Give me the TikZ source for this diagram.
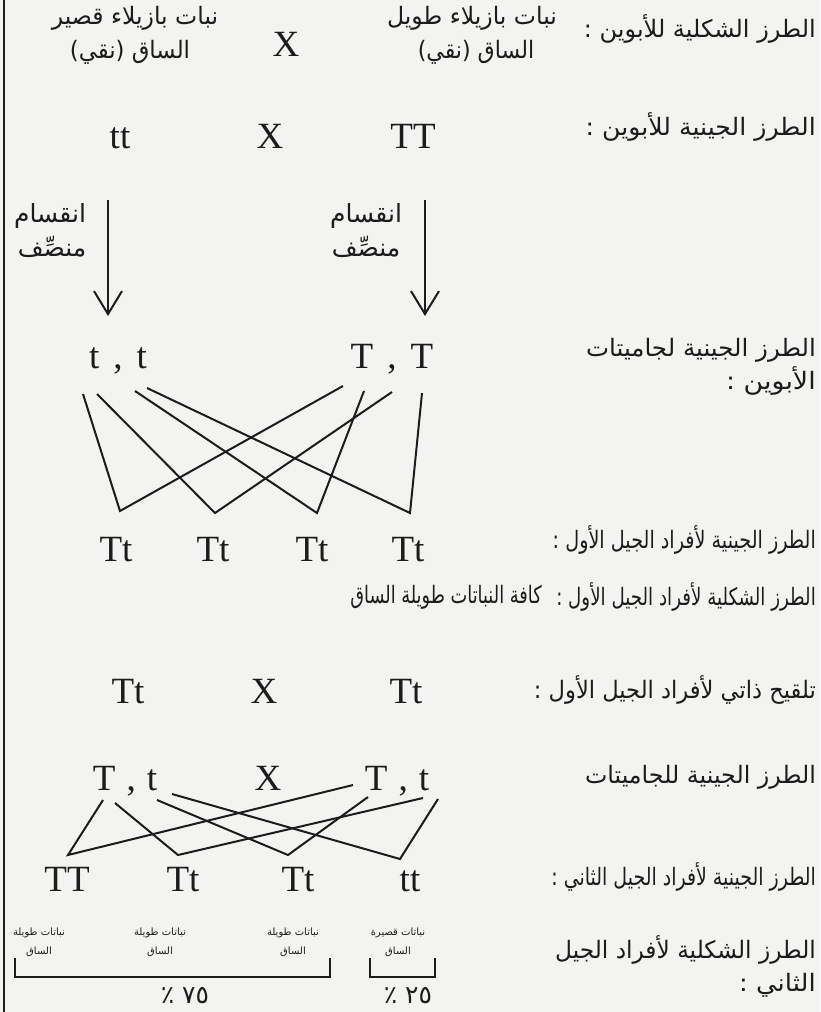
\documentclass[tikz,border=0pt]{standalone}
\usepackage{fontspec}
\usepackage{graphicx}
\setmainfont{Liberation Serif}
\newfontfamily\arfont[Script=Arabic]{DejaVu Sans}
\TeXXeTstate=1
\usetikzlibrary{arrows.meta}
\definecolor{ink}{HTML}{1C1C1C}
\definecolor{paper}{HTML}{F3F3F1}
\begin{document}
\begin{tikzpicture}[x=1pt,y=-1pt,
  lab/.style={font=\arfont\fontsize{24}{28}\selectfont, anchor=east, inner sep=0pt, text=ink},
  ara/.style={font=\arfont\fontsize{24}{28}\selectfont, inner sep=0pt, text=ink},
  mei/.style={font=\arfont\fontsize{25}{28}\selectfont, inner sep=0pt, text=ink},
  sml/.style={font=\arfont\fontsize{10}{12}\selectfont, inner sep=0pt, text=ink},
  pct/.style={font=\arfont\fontsize{25}{28}\selectfont, inner sep=0pt, text=ink},
  gen/.style={font=\fontsize{37}{40}\selectfont, inner sep=0pt, text=ink, anchor=base},
  link/.style={draw=ink, line width=2pt, line join=miter},
  meio/.style={draw=ink, line width=2.2pt, -{Straight Barb[length=23pt,width=28pt,line width=2pt]}},
  brk/.style={draw=ink, line width=2.6pt},
]
\fill[paper] (0,0) rectangle (820,1012);
\useasboundingbox (0,0) rectangle (820,1012);
\draw[ink, line width=2.2pt] (4,0) -- (4,1012);

% ---- right-hand labels
\node[lab] (L1) at (816,29) {\scalebox{1.0}[1]{\beginR الطرز الشكلية للأبوين :\endR}};
\node[lab] (L2) at (816,127) {\scalebox{1.05}[1]{\beginR الطرز الجينية للأبوين :\endR}};
\node[lab] (L3a) at (816,350) {\scalebox{1.02}[1]{\beginR الطرز الجينية لجاميتات\endR}};
\node[lab] (L3b) at (816,381) {\scalebox{1.12}[1]{\beginR الأبوين :\endR}};
\node[lab] (L4) at (816,540) {\scalebox{0.8}[1]{\beginR الطرز الجينية لأفراد الجيل الأول :\endR}};
\node[lab] (L5) at (816,597) {\scalebox{0.76}[1]{\beginR الطرز الشكلية لأفراد الجيل الأول :\endR}};
\node[lab] (L6) at (816,690) {\scalebox{0.94}[1]{\beginR تلقيح ذاتي لأفراد الجيل الأول :\endR}};
\node[lab] (L7) at (816,777) {\scalebox{0.99}[1]{\beginR الطرز الجينية للجاميتات\endR}};
\node[lab] (L8) at (816,877) {\scalebox{0.79}[1]{\beginR الطرز الجينية لأفراد الجيل الثاني :\endR}};
\node[lab] (L9a) at (816,950) {\scalebox{0.97}[1]{\beginR الطرز الشكلية لأفراد الجيل\endR}};
\node[lab] (L9b) at (816,985) {\scalebox{1.08}[1]{\beginR الثاني :\endR}};

% ---- row 1: phenotypes of parents
\node[ara] (p1a) at (135,18) {\scalebox{0.98}[1]{\beginR نبات بازيلاء قصير\endR}};
\node[ara] (p1b) at (130,52) {\scalebox{0.95}[1]{\beginR الساق (نقي)\endR}};
\node[gen] (x1) at (286,56) {X};
\node[ara] (p2a) at (472,18) {\scalebox{0.98}[1]{\beginR نبات بازيلاء طويل\endR}};
\node[ara] (p2b) at (476,52) {\scalebox{0.92}[1]{\beginR الساق (نقي)\endR}};

% ---- row 2: genotypes of parents
\node[gen] (tt0) at (120,148) {tt};
\node[gen] (x2) at (270,148) {X};
\node[gen] (TT0) at (413,148) {TT};

% ---- meiosis arrows
\coordinate (m1s) at (108,200); \coordinate (m1e) at (108,316);
\coordinate (m2s) at (425,200); \coordinate (m2e) at (425,316);
\draw[meio] (m1s) -- (m1e);
\draw[meio] (m2s) -- (m2e);
\node[mei] (ma1) at (50,216) {\beginR انقسام\endR};
\node[mei] (mb1) at (52,247) {\beginR منصِّف\endR};
\node[mei] (ma2) at (366,216) {\beginR انقسام\endR};
\node[mei] (mb2) at (366,247) {\beginR منصِّف\endR};

% ---- gametes of parents
\node[gen] (gl) at (118,368) {t\hspace{0.38em},\hspace{0.38em}t};
\node[gen] (gr) at (392,368) {T\hspace{0.38em},\hspace{0.38em}T};

% ---- F1 genotypes
\node[gen] (f1) at (116,561) {Tt};
\node[gen] (f2) at (213,561) {Tt};
\node[gen] (f3) at (312,561) {Tt};
\node[gen] (f4) at (408,561) {Tt};

\coordinate (a1) at (83,394);  \coordinate (a2) at (97,394);
\coordinate (a3) at (135,391); \coordinate (a4) at (147,388);
\coordinate (b1) at (343,386); \coordinate (b2) at (364,391);
\coordinate (b3) at (392,392); \coordinate (b4) at (422,393);
\coordinate (v1) at (120,511); \coordinate (v2) at (215,513);
\coordinate (v3) at (317,513); \coordinate (v4) at (410,513);
\draw[link] (a1) -- (v1) -- (b1);
\draw[link] (a2) -- (v2) -- (b3);
\draw[link] (a3) -- (v3) -- (b2);
\draw[link] (a4) -- (v4) -- (b4);

% ---- F1 phenotype
\node[ara] (allT) at (446,597) {\scalebox{0.74}[1]{\beginR كافة النباتات طويلة الساق\endR}};

% ---- self-pollination
\node[gen] (s1) at (128,703) {Tt};
\node[gen] (x3) at (264,703) {X};
\node[gen] (s2) at (406,703) {Tt};

% ---- gametes of F1
\node[gen] (hl) at (125,790) {T\hspace{0.3em},\hspace{0.3em}t};
\node[gen] (x4) at (268,790) {X};
\node[gen] (hr) at (397,790) {T\hspace{0.3em},\hspace{0.3em}t};

% ---- F2 genotypes
\node[gen] (e1) at (67,891) {TT};
\node[gen] (e2) at (183,891) {Tt};
\node[gen] (e3) at (298,891) {Tt};
\node[gen] (e4) at (410,891) {tt};

\coordinate (c1) at (103,800); \coordinate (c2) at (115,803);
\coordinate (c3) at (157,800); \coordinate (c4) at (172,794);
\coordinate (d1) at (353,785); \coordinate (d2) at (368,797);
\coordinate (d3) at (423,798); \coordinate (d4) at (438,799);
\coordinate (w1) at (68,855);  \coordinate (w2) at (178,855);
\coordinate (w3) at (288,855); \coordinate (w4) at (400,859);
\draw[link] (c1) -- (w1) -- (d1);
\draw[link] (c2) -- (w2) -- (d3);
\draw[link] (c3) -- (w3) -- (d2);
\draw[link] (c4) -- (w4) -- (d4);

% ---- F2 phenotypes
\node[sml] (q1a) at (39,933) {\beginR نباتات طويلة\endR};
\node[sml] (q1b) at (39,952) {\beginR الساق\endR};
\node[sml] (q2a) at (160,933) {\beginR نباتات طويلة\endR};
\node[sml] (q2b) at (160,952) {\beginR الساق\endR};
\node[sml] (q3a) at (293,933) {\beginR نباتات طويلة\endR};
\node[sml] (q3b) at (293,952) {\beginR الساق\endR};
\node[sml] (q4a) at (398,933) {\beginR نباتات قصيرة\endR};
\node[sml] (q4b) at (398,952) {\beginR الساق\endR};

\coordinate (k1) at (15,958); \coordinate (k2) at (15,977);
\coordinate (k3) at (330,977); \coordinate (k4) at (330,958);
\draw[brk] (k1) -- (k2) -- (k3) -- (k4);
\coordinate (n1) at (370,958); \coordinate (n2) at (370,977);
\coordinate (n3) at (435,977); \coordinate (n4) at (435,958);
\draw[brk] (n1) -- (n2) -- (n3) -- (n4);

\node[pct] (r75) at (185,996) {\beginR ٧٥ ٪\endR};
\node[pct] (r25) at (408,996) {\beginR ٢٥ ٪\endR};
\end{tikzpicture}
\end{document}
